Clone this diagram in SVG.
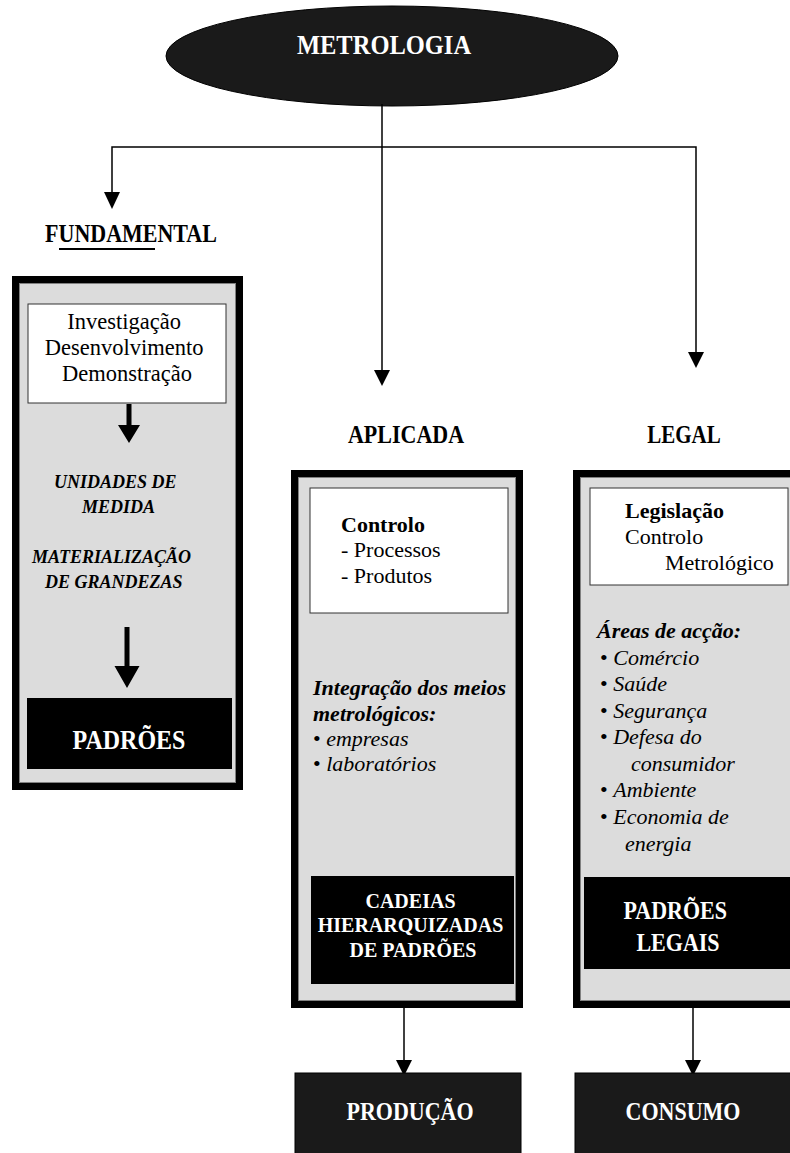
<svg xmlns="http://www.w3.org/2000/svg" width="790" height="1153" viewBox="0 0 790 1153">
<style>
.t{font-family:"Liberation Serif","Times New Roman",serif;fill:#000}
.b{font-weight:bold}
.i{font-style:italic}
.w{fill:#fff}
.frame{fill:#dcdcdc;stroke:#000;stroke-width:7}
.inner{fill:none;stroke:#808080;stroke-width:1}
.wbox{fill:#fff;stroke:#333;stroke-width:1}
.blk{fill:#000}
.dark{fill:#1a1a1a;stroke:#000;stroke-width:1}
.ln{stroke:#000;stroke-width:1.5;fill:none}
</style>

<g id="metrologia">
<ellipse cx="392" cy="56" rx="226" ry="50" fill="#1a1a1a" stroke="#000"/>
<text class="t b w" transform="translate(384,54) scale(1,1.15)" font-size="24.5" text-anchor="middle">METROLOGIA</text>
</g>

<g id="connectors">
<line class="ln" x1="382" y1="104" x2="382" y2="370"/>
<polygon points="374,370 390,370 382,386"/>
<polyline class="ln" points="112,192 112,147 696,147 696,352"/>
<polygon points="104,192 120,192 112,209"/>
<polygon points="688,352 704,352 696,368"/>
<line class="ln" x1="404" y1="1008" x2="404" y2="1060"/>
<polygon points="396,1060 412,1060 404,1076"/>
<line class="ln" x1="693" y1="1008" x2="693" y2="1060"/>
<polygon points="685,1060 701,1060 693,1076"/>
</g>

<g id="fundamental">
<text class="t b" transform="translate(131,242) scale(1,1.15)" font-size="22" text-anchor="middle">FUNDAMENTAL</text>
<line x1="59" y1="249" x2="155" y2="249" stroke="#000" stroke-width="2"/>
<rect class="frame" x="15.5" y="279.5" width="224" height="507"/>
<rect class="inner" x="19.5" y="283.5" width="216" height="499"/>
<rect class="wbox" x="28" y="304" width="198" height="99"/>
<text class="t" font-size="22.5" text-anchor="middle">
<tspan x="127" y="329">Investigação</tspan>
<tspan x="127" y="355">Desenvolvimento</tspan>
<tspan x="127" y="381">Demonstração</tspan>
</text>
<polygon points="126.5,404 131.5,404 131.5,425 140,425 129,443 118,425 126.5,425"/>
<text class="t b i" font-size="18">
<tspan x="54" y="488">UNIDADES DE</tspan>
<tspan x="82" y="513">MEDIDA</tspan>
<tspan x="32" y="563">MATERIALIZAÇÃO</tspan>
<tspan x="45" y="588">DE GRANDEZAS</tspan>
</text>
<polygon points="124.5,627 129.5,627 129.5,666 139.5,666 127,688 114.5,666 124.5,666"/>
<rect class="blk" x="27" y="698" width="205" height="71"/>
<text class="t b w" transform="translate(129,749) scale(1,1.15)" font-size="24" text-anchor="middle">PADRÕES</text>
</g>

<g id="aplicada">
<text class="t b" transform="translate(406,443) scale(1,1.15)" font-size="22" text-anchor="middle">APLICADA</text>
<rect class="frame" x="294.5" y="473.5" width="225" height="531"/>
<rect class="inner" x="298.5" y="477.5" width="217" height="523"/>
<rect class="wbox" x="310" y="488" width="198" height="125"/>
<text class="t" font-size="22">
<tspan class="b" x="341" y="532">Controlo</tspan>
<tspan x="341" y="557">- Processos</tspan>
<tspan x="341" y="583">- Produtos</tspan>
</text>
<text class="t" font-size="22">
<tspan class="b i" x="313" y="695">Integração dos meios</tspan>
<tspan class="b i" x="313" y="721">metrológicos:</tspan>
<tspan x="313" y="746">• <tspan class="i">empresas</tspan></tspan>
<tspan x="313" y="771">• <tspan class="i">laboratórios</tspan></tspan>
</text>
<rect class="blk" x="311" y="876" width="203" height="108"/>
<text class="t b w" font-size="20" text-anchor="middle">
<tspan x="413" y="908">CADEIAS</tspan>
<tspan x="413" y="932">HIERARQUIZADAS</tspan>
<tspan x="413" y="957">DE PADRÕES</tspan>
</text>
</g>

<g id="legal">
<text class="t b" transform="translate(684,443) scale(1,1.15)" font-size="21" text-anchor="middle">LEGAL</text>
<rect class="frame" x="576.5" y="473.5" width="230" height="531"/>
<rect class="inner" x="580.5" y="477.5" width="230" height="523"/>
<rect class="wbox" x="590" y="488" width="198" height="97"/>
<text class="t" font-size="22">
<tspan class="b" x="625" y="518">Legislação</tspan>
<tspan x="625" y="544">Controlo</tspan>
<tspan x="665" y="570">Metrológico</tspan>
</text>
<text class="t" font-size="22">
<tspan class="b i" x="597" y="638">Áreas de acção:</tspan>
<tspan x="600" y="665">• <tspan class="i">Comércio</tspan></tspan>
<tspan x="600" y="691">• <tspan class="i">Saúde</tspan></tspan>
<tspan x="600" y="718">• <tspan class="i">Segurança</tspan></tspan>
<tspan x="600" y="744">• <tspan class="i">Defesa do</tspan></tspan>
<tspan class="i" x="631" y="771">consumidor</tspan>
<tspan x="600" y="797">• <tspan class="i">Ambiente</tspan></tspan>
<tspan x="600" y="824">• <tspan class="i">Economia de</tspan></tspan>
<tspan class="i" x="625" y="851">energia</tspan>
</text>
<rect class="blk" x="584" y="877" width="206" height="92"/>
<text class="t b w" transform="translate(678,919) scale(1,1.15)" font-size="22" text-anchor="middle">
<tspan x="0" y="0">PADRÕES</tspan>
<tspan x="0" y="27.8">LEGAIS</tspan>
</text>
</g>

<g id="producao">
<rect class="dark" x="295" y="1073" width="226" height="85"/>
<text class="t b w" transform="translate(410,1120) scale(1,1.15)" font-size="22" text-anchor="middle">PRODUÇÃO</text>
</g>
<g id="consumo">
<rect class="dark" x="575" y="1073" width="230" height="85"/>
<text class="t b w" transform="translate(683,1120) scale(1,1.15)" font-size="22" text-anchor="middle">CONSUMO</text>
</g>
</svg>
